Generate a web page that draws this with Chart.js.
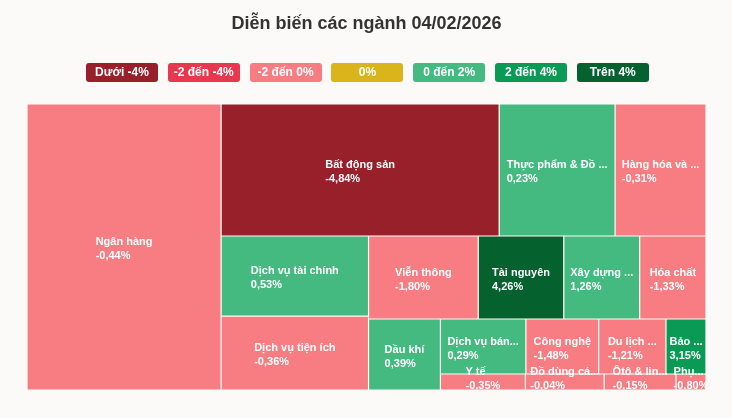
<!DOCTYPE html>
<html>
<head>
<meta charset="utf-8">
<title>Diễn biến các ngành</title>
<script src="https://cdn.jsdelivr.net/npm/chart.js@4"></script>
<style>
    html, body { margin: 0; padding: 0; background: #fcfaf8; }
    body { width: 732px; height: 418px; position: relative; overflow: hidden; font-family: "Liberation Sans", Arial, sans-serif; }
    #chart { position: absolute; left: 0; top: 0; }
    #legend { position: absolute; left: 86px; top: 63px; display: flex; gap: 9.8px; }
    #legend span { display: block; width: 72px; height: 19px; line-height: 19px; border-radius: 3px; text-align: center; color: #fff; font-size: 12px; font-weight: bold; }
</style>
</head>
<body>
<canvas id="chart" width="732" height="418"></canvas>
<div id="legend"></div>
<script>
const chartTitle = 'Diễn biến các ngành 04/02/2026';

// Tên ngành đúng như hiển thị (đã bị cắt sẵn)
const sectors = ['Ngân hàng', 'Bất động sản', 'Thực phẩm & Đồ ...', 'Hàng hóa và ...', 'Dịch vụ tài chính', 'Dịch vụ tiện ích',
    'Viễn thông', 'Tài nguyên', 'Xây dựng ...', 'Hóa chất', 'Dầu khí', 'Dịch vụ bán...', 'Công nghệ', 'Du lịch ...', 'Bảo ...',
    'Y tế', 'Đồ dùng cá...', 'Ôtô & lin...', 'Phụ...'];
const changes = [-0.44, -4.84, 0.23, -0.31, 0.53, -0.36, -1.80, 4.26, 1.26, -1.33, 0.39, 0.29, -1.48, -1.21, 3.15, -0.35, -0.04, -0.15, -0.80];
// Tỷ trọng ước lượng theo diện tích ô
const weights = [555, 367, 153, 120, 118, 109, 91, 71, 63, 55, 51, 47, 40, 37, 22, 13.6, 12.6, 11.5, 4.8];

const legendLabels = ['Dưới -4%', '-2 đến -4%', '-2 đến 0%', '0%', '0 đến 2%', '2 đến 4%', 'Trên 4%'];
const legendColors = ['#97202a', '#e8384f', '#f87d82', '#d9b41a', '#45ba80', '#0a9a56', '#05622f'];

// Cây chia ô: mỗi cấp đổi hướng cắt, bắt đầu theo chiều ngang
const layoutTree = [0, [[1, 2, 3], [[4, 5], [[6, 7, 8, 9], [10, [[11, 12, 13, 14], [15, 16, 17, 18]]]]]]];

function colorFor(value) {
    if (value < -4) return legendColors[0];
    if (value < -2) return legendColors[1];
    if (value < 0) return legendColors[2];
    if (value === 0) return legendColors[3];
    if (value <= 2) return legendColors[4];
    if (value <= 4) return legendColors[5];
    return legendColors[6];
}

function nodeWeight(node) {
    return Array.isArray(node) ? node.reduce((sum, child) => sum + nodeWeight(child), 0) : weights[node];
}

function sliceTree(node, box, horizontal, out) {
    if (!Array.isArray(node)) {
        out[node] = box;
        return;
    }
    const total = nodeWeight(node);
    let start = horizontal ? box.x0 : box.y0;
    node.forEach(child => {
        const size = nodeWeight(child) / total * (horizontal ? box.x1 - box.x0 : box.y1 - box.y0);
        const childBox = horizontal
            ? { x0: start, x1: start + size, y0: box.y0, y1: box.y1 }
            : { x0: box.x0, x1: box.x1, y0: start, y1: start + size };
        sliceTree(child, childBox, !horizontal, out);
        start += size;
    });
}

const tiles = [];
sliceTree(layoutTree, { x0: 0, x1: 1, y0: 0, y1: 1 }, true, tiles);
tiles.forEach(t => {
    t.x = (t.x0 + t.x1) / 2;
    t.y = (t.y0 + t.y1) / 2;
});

class TreemapController extends Chart.DatasetController {
    update(mode) {
        const meta = this._cachedMeta;
        this.updateElements(meta.data, 0, meta.data.length, mode);
    }

    updateElements(rects, start, count, mode) {
        const meta = this._cachedMeta;
        const xScale = meta.xScale;
        const yScale = meta.yScale;
        for (let i = start; i < start + count; i++) {
            const t = meta._parsed[i];
            const left = xScale.getPixelForValue(t.x0);
            const right = xScale.getPixelForValue(t.x1);
            this.updateElement(rects[i], i, {
                x: (left + right) / 2,
                y: yScale.getPixelForValue(t.y0),
                base: yScale.getPixelForValue(t.y1),
                width: right - left,
                height: yScale.getPixelForValue(t.y1) - yScale.getPixelForValue(t.y0),
                horizontal: false,
                inflateAmount: 0,
                enableBorderRadius: false,
                borderSkipped: { top: false, left: false, bottom: false, right: false },
                options: this.resolveDataElementOptions(i, mode)
            }, mode);
        }
    }
}
TreemapController.id = 'treemap';
TreemapController.defaults = { dataElementType: 'bar', datasetElementType: false };
Chart.register(TreemapController);

// Nhãn trong ô: khối hai dòng căn giữa ô, chữ căn trái
const tileLabels = {
    id: 'tileLabels',
    afterDatasetsDraw(chart) {
        const ctx = chart.ctx;
        const lineHeight = 14;
        ctx.save();
        ctx.font = 'bold 11px "Liberation Sans", Arial, sans-serif';
        ctx.fillStyle = '#fff';
        ctx.textAlign = 'left';
        ctx.textBaseline = 'middle';
        chart.getDatasetMeta(0).data.forEach((rect, i) => {
            const pct = changes[i].toFixed(2).replace('.', ',') + '%';
            const blockWidth = Math.max(ctx.measureText(sectors[i]).width, ctx.measureText(pct).width);
            const left = rect.x - blockWidth / 2;
            const center = Math.min((rect.y + rect.base) / 2 + 2, rect.base - 11);
            ctx.fillText(sectors[i], left, center - lineHeight / 2);
            ctx.fillText(pct, left, center + lineHeight / 2);
        });
        ctx.restore();
    }
};

document.getElementById('legend').innerHTML = legendLabels
    .map((label, i) => `<span style="background:${legendColors[i]}">${label}</span>`)
    .join('');

new Chart(document.getElementById('chart'), {
    type: 'treemap',
    data: {
        datasets: [{
            data: tiles,
            parsing: false,
            backgroundColor: changes.map(colorFor),
            borderColor: '#fff',
            borderWidth: 0.6,
            borderRadius: 0
        }]
    },
    options: {
        responsive: false,
        animation: false,
        layout: { padding: { left: 27, right: 26, top: 0, bottom: 28 } },
        scales: {
            x: { type: 'linear', min: 0, max: 1, display: false },
            y: { type: 'linear', min: 0, max: 1, reverse: true, display: false }
        },
        plugins: {
            legend: { display: false },
            tooltip: { enabled: false },
            title: {
                display: true,
                text: chartTitle,
                color: '#333',
                font: { family: '"Liberation Sans", Arial, sans-serif', size: 18, weight: 'bold' },
                padding: { top: 13, bottom: 69.4 }
            }
        }
    },
    plugins: [tileLabels]
});
</script>
</body>
</html>
